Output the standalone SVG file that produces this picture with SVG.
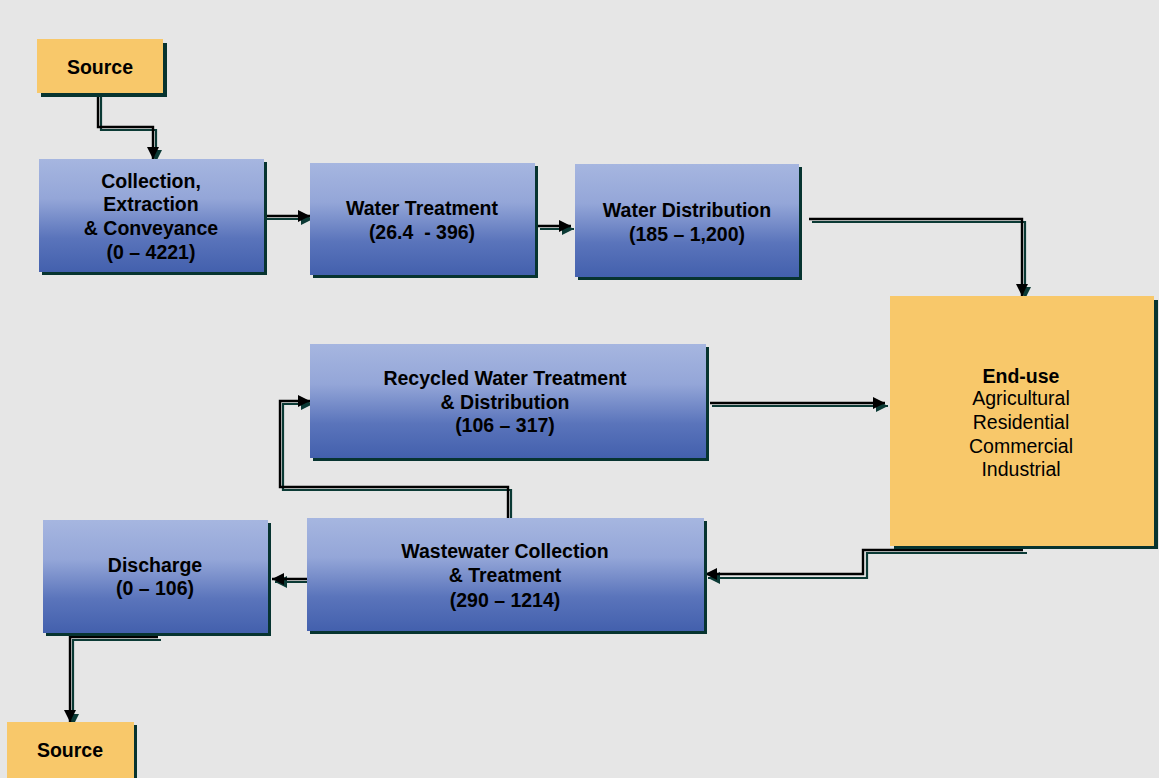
<svg xmlns="http://www.w3.org/2000/svg" width="1159" height="778" viewBox="0 0 1159 778">
<defs>
<linearGradient id="blue" x1="0" y1="0" x2="0" y2="1">
<stop offset="0" stop-color="#a6b6e0"/>
<stop offset="0.35" stop-color="#94a6d8"/>
<stop offset="0.7" stop-color="#5a74bb"/>
<stop offset="1" stop-color="#4360ad"/>
</linearGradient>
<marker id="ab" viewBox="0 0 12 12" refX="12" refY="6" markerWidth="12" markerHeight="12" markerUnits="userSpaceOnUse" orient="auto"><path d="M0,0 L12,6 L0,12 Z" fill="#000"/></marker>
<marker id="as" viewBox="0 0 12 12" refX="12" refY="6" markerWidth="12" markerHeight="12" markerUnits="userSpaceOnUse" orient="auto"><path d="M0,0 L12,6 L0,12 Z" fill="#0b3a35"/></marker>
</defs>
<style>
.sh{fill:#073430}
.bl{fill:url(#blue)}
.yl{fill:#f8c86a}
.t{font-family:"Liberation Sans",Arial,sans-serif;font-size:19.5px;font-weight:bold;fill:#000;text-anchor:middle}
.r{font-weight:normal}
.cb{fill:none;stroke:#000;stroke-width:2.4;marker-end:url(#ab)}
.cs{fill:none;stroke:#0b3a35;stroke-width:2.2;marker-end:url(#as)}
</style>
<rect width="1159" height="778" fill="#e6e6e6"/>
<g id="connectors">
<path class="cs" d="M101,97 V130 H156 V162"/>
<path class="cb" d="M98,97 V127 H153 V159"/>
<path class="cs" d="M267,219 H313"/>
<path class="cb" d="M264,216 H310"/>
<path class="cs" d="M540,229 H574"/>
<path class="cb" d="M538,226 H571"/>
<path class="cs" d="M812,222 H1025 V299"/>
<path class="cb" d="M809,219 H1022 V296"/>
<path class="cs" d="M712,406 H888"/>
<path class="cb" d="M710,403 H885"/>
<path class="cs" d="M1027,553 H867 V578 H708"/>
<path class="cb" d="M1023,550 H863 V574 H705"/>
<path class="cs" d="M511,518 V490 H283 V404 H313"/>
<path class="cb" d="M508,518 V487 H280 V401 H310"/>
<path class="cs" d="M312,582 H275"/>
<path class="cb" d="M309,579 H272"/>
<path class="cs" d="M161,640 H73 V726"/>
<path class="cb" d="M158,637 H70 V722"/>
</g>
<g id="source-top">
<rect class="sh" x="41" y="43" width="126" height="54"/>
<rect class="yl" x="37" y="39" width="126" height="54"/>
<text class="t" x="100" y="74">Source</text>
</g>
<g id="collection">
<rect class="sh" x="42" y="162" width="225" height="113"/>
<rect class="bl" x="39" y="159" width="225" height="113"/>
<text class="t" x="151" y="188">Collection,</text>
<text class="t" x="151" y="211">Extraction</text>
<text class="t" x="151" y="235">&amp; Conveyance</text>
<text class="t" x="151" y="259">(0 – 4221)</text>
</g>
<g id="water-treatment">
<rect class="sh" x="313" y="166" width="225" height="112"/>
<rect class="bl" x="310" y="163" width="225" height="112"/>
<text class="t" x="422" y="215">Water Treatment</text>
<text class="t" x="422" y="239" xml:space="preserve">(26.4  - 396)</text>
</g>
<g id="water-distribution">
<rect class="sh" x="578" y="167" width="224" height="113"/>
<rect class="bl" x="575" y="164" width="224" height="113"/>
<text class="t" x="687" y="217">Water Distribution</text>
<text class="t" x="687" y="241">(185 – 1,200)</text>
</g>
<g id="end-use">
<rect class="sh" x="894" y="300" width="264" height="249"/>
<rect class="yl" x="890" y="296" width="264" height="250"/>
<text class="t" x="1021" y="383">End-use</text>
<text class="t r" x="1021" y="405">Agricultural</text>
<text class="t r" x="1021" y="429">Residential</text>
<text class="t r" x="1021" y="453">Commercial</text>
<text class="t r" x="1021" y="476">Industrial</text>
</g>
<g id="recycled">
<rect class="sh" x="313" y="347" width="396" height="114"/>
<rect class="bl" x="310" y="344" width="396" height="114"/>
<text class="t" x="505" y="385">Recycled Water Treatment</text>
<text class="t" x="505" y="409">&amp; Distribution</text>
<text class="t" x="505" y="432">(106 – 317)</text>
</g>
<g id="wastewater">
<rect class="sh" x="310" y="521" width="397" height="113"/>
<rect class="bl" x="307" y="518" width="397" height="113"/>
<text class="t" x="505" y="558">Wastewater Collection</text>
<text class="t" x="505" y="582">&amp; Treatment</text>
<text class="t" x="505" y="607">(290 – 1214)</text>
</g>
<g id="discharge">
<rect class="sh" x="46" y="523" width="225" height="113"/>
<rect class="bl" x="43" y="520" width="225" height="113"/>
<text class="t" x="155" y="572">Discharge</text>
<text class="t" x="155" y="595">(0 – 106)</text>
</g>
<g id="source-bottom">
<rect class="sh" x="10" y="725" width="127" height="53"/>
<rect class="yl" x="7" y="722" width="127" height="56"/>
<text class="t" x="70" y="757">Source</text>
</g>
</svg>
